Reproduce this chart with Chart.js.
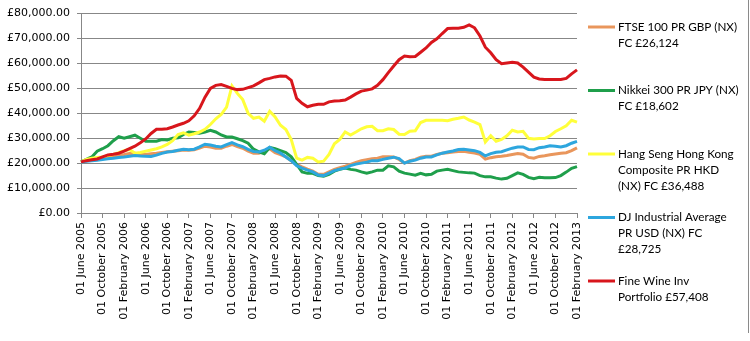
<!DOCTYPE html>
<html>
<head>
<meta charset="utf-8">
<script src="https://cdn.jsdelivr.net/npm/chart.js@4/dist/chart.umd.min.js"></script>
<style>
  body { margin: 0; background: #fff; }
  #growth { display: block; }
</style>
</head>
<body>
<canvas id="growth" width="750" height="341"></canvas>
<script>
// monthly valuation dates
const months = [
  '01 June 2005', '01 July 2005', '01 August 2005', '01 September 2005', '01 October 2005', '01 November 2005', '01 December 2005',
  '01 January 2006', '01 February 2006', '01 March 2006', '01 April 2006', '01 May 2006', '01 June 2006',
  '01 July 2006', '01 August 2006', '01 September 2006', '01 October 2006', '01 November 2006', '01 December 2006',
  '01 January 2007', '01 February 2007', '01 March 2007', '01 April 2007', '01 May 2007', '01 June 2007',
  '01 July 2007', '01 August 2007', '01 September 2007', '01 October 2007', '01 November 2007', '01 December 2007',
  '01 January 2008', '01 February 2008', '01 March 2008', '01 April 2008', '01 May 2008', '01 June 2008',
  '01 July 2008', '01 August 2008', '01 September 2008', '01 October 2008', '01 November 2008', '01 December 2008',
  '01 January 2009', '01 February 2009', '01 March 2009', '01 April 2009', '01 May 2009', '01 June 2009',
  '01 July 2009', '01 August 2009', '01 September 2009', '01 October 2009', '01 November 2009', '01 December 2009',
  '01 January 2010', '01 February 2010', '01 March 2010', '01 April 2010', '01 May 2010', '01 June 2010',
  '01 July 2010', '01 August 2010', '01 September 2010', '01 October 2010', '01 November 2010', '01 December 2010',
  '01 January 2011', '01 February 2011', '01 March 2011', '01 April 2011', '01 May 2011', '01 June 2011',
  '01 July 2011', '01 August 2011', '01 September 2011', '01 October 2011', '01 November 2011', '01 December 2011',
  '01 January 2012', '01 February 2012', '01 March 2012', '01 April 2012', '01 May 2012', '01 June 2012',
  '01 July 2012', '01 August 2012', '01 September 2012', '01 October 2012', '01 November 2012', '01 December 2012',
  '01 January 2013', '01 February 2013'
];

// value of £20,500 invested in each, by month
const ftse = [
  20500, 21200, 21600, 21800, 22000, 22300, 22800, 23200, 23500, 23900,
  24000, 23600, 23500, 23800, 24000, 24300, 24600, 24800, 25000, 25300,
  25200, 25400, 26000, 26800, 26500, 26000, 26000, 26800, 27500, 26600,
  26000, 24800, 24000, 24000, 24800, 25800, 24200, 23400, 22500, 21000,
  19500, 18500, 17600, 16800, 15500, 15500, 16500, 17500, 18200, 18800,
  19500, 20300, 21000, 21400, 21800, 22000, 22600, 22600, 22500, 21500,
  20000, 21000, 21500, 22400, 22800, 22800, 23500, 24000, 24200, 24500,
  24700, 24800, 24400, 24100, 23500, 21600, 22200, 22600, 22800, 23100,
  23500, 23900, 23600, 22300, 22000, 22700, 23000, 23400, 23700, 24000,
  24200, 25000, 26124
];
const nikkei = [
  20500, 21500, 22500, 24800, 25800, 27000, 29000, 30600, 30000, 30600,
  31200, 30000, 28800, 28800, 28800, 29500, 29300, 30000, 30200, 31500,
  32500, 32300, 32000, 32500, 33200, 32500, 31300, 30500, 30500, 29800,
  29000, 28000, 25600, 24500, 23800, 26300, 25800, 25000, 24200, 22500,
  19500, 16500, 15900, 15900, 15000, 14800, 15500, 16800, 17500, 18000,
  17500, 17200, 16500, 16000, 16500, 17200, 17200, 18900, 18500, 16800,
  16000, 15600, 15200, 15900, 15300, 15500, 16800, 17200, 17500, 17000,
  16500, 16300, 16100, 16000, 15000, 14500, 14500, 14000, 13600, 13900,
  15000, 16100, 15500, 14300, 13800, 14300, 14100, 14100, 14200, 15000,
  16400, 17900, 18602
];
const hangSeng = [
  20500, 21500, 22000, 22300, 22500, 23000, 23500, 24200, 25000, 25500,
  24000, 24300, 24800, 25300, 25800, 26500, 27500, 29000, 31500, 32200,
  31200, 31800, 32500, 33600, 35500, 37800, 39500, 42500, 51000, 48000,
  45500, 40000, 38000, 38500, 36800, 40800, 38500, 35200, 33500, 29500,
  22000, 21200, 22300, 22000, 20500, 20800, 23500, 27800, 29500, 32500,
  31300, 32500, 33800, 34600, 34800, 33000, 33000, 33800, 33500, 31600,
  31500, 32800, 33000, 36300, 37200, 37200, 37200, 37200, 37000, 37600,
  38000, 38500, 37300, 36500, 35500, 28500, 31000, 28800, 29500, 31000,
  33200, 32500, 32800, 30000, 29700, 29900, 29900, 31000, 32700, 33800,
  35000, 37200, 36488
];
const dowJones = [
  20500, 20800, 21000, 21200, 21500, 21800, 22000, 22300, 22500, 22800,
  23100, 22900, 22800, 22700, 23200, 23900, 24500, 24700, 25200, 25600,
  25400, 25600, 26500, 27600, 27300, 26800, 26500, 27400, 28200, 27300,
  26600, 25500, 24700, 24500, 25200, 26400, 25000, 24000, 22500, 21000,
  19000, 18000, 17200, 16500, 15200, 15000, 16000, 17000, 17600, 18000,
  19000, 19600, 20000, 20400, 21000, 21000, 21500, 22000, 22400, 21800,
  20000, 20800, 21200, 22000, 22500, 22500, 23300, 24000, 24500, 24900,
  25500, 25600, 25300, 25000, 24300, 22900, 23800, 24400, 24600, 25300,
  26000, 26500, 26500, 25500, 25400, 26200, 26500, 27000, 26800, 26500,
  27000, 28000, 28725
];
const fineWine = [
  20500, 21000, 21400, 21700, 22500, 23300, 23600, 24000, 24800, 25800,
  26800, 28200, 29700, 31900, 33600, 33600, 33800, 34500, 35300, 36000,
  37000, 39000, 42000, 46500, 50000, 51200, 51500, 50800, 50000, 49500,
  49600, 50300, 51000, 52200, 53500, 54000, 54600, 55000, 54900, 53200,
  46000, 44000, 42600, 43200, 43600, 43600, 44600, 44900, 45000, 45300,
  46500, 47800, 48900, 49300, 49800, 51200, 53500, 56300, 59000, 61500,
  63000, 62700, 62800, 64500, 66200, 68400, 69900, 72000, 74000, 74100,
  74100, 74500, 75500, 74300, 71000, 66500, 64300, 61500, 59900, 60200,
  60500, 60200, 58500, 56500, 54500, 53800, 53600, 53600, 53600, 53600,
  54000, 55800, 57408
];

// legend text, already broken into lines
const legendLines = [
  ['FTSE 100 PR GBP (NX)', 'FC £26,124'],
  ['Nikkei 300 PR JPY (NX)', 'FC £18,602'],
  ['Hang Seng Hong Kong', 'Composite PR HKD', '(NX) FC £36,488'],
  ['DJ Industrial Average', 'PR USD (NX) FC', '£28,725'],
  ['Fine Wine Inv', 'Portfolio £57,408']
];
const seriesData = [ftse, nikkei, hangSeng, dowJones, fineWine];
const colours = ['#E9965C', '#1F9F4B', '#FFFF3A', '#2DA6DE', '#D8161C'];

const axisFont = { family: 'DejaVu Sans', size: 11 };
const gridGrey = '#878787';

// wrapped legend on the right hand side
const sideLegend = {
  id: 'sideLegend',
  afterDraw(chart) {
    const ctx = chart.ctx;
    ctx.save();
    ctx.font = '11.7px Lato';
    ctx.textBaseline = 'middle';
    ctx.fillStyle = '#000';
    legendLines.forEach((lines, i) => {
      const y = 27 + i * 63.5;
      ctx.strokeStyle = colours[i];
      ctx.lineWidth = 3;
      ctx.beginPath();
      ctx.moveTo(588, y);
      ctx.lineTo(615, y);
      ctx.stroke();
      lines.forEach((txt, j) => ctx.fillText(txt, 618, y + j * 16));
    });
    // outer frame edge
    ctx.strokeStyle = '#8a8a8a';
    ctx.lineWidth = 1;
    ctx.beginPath();
    ctx.moveTo(748.5, 0);
    ctx.lineTo(748.5, 333);
    ctx.stroke();
    ctx.restore();
  }
};

const ctx = document.getElementById('growth').getContext('2d');

new Chart(ctx, {
  type: 'line',
  data: {
    labels: months,
    datasets: seriesData.map((data, i) => ({
      label: legendLines[i].join(' '),
      data,
      borderColor: colours[i],
      backgroundColor: colours[i],
      borderWidth: 3,
      pointRadius: 0,
      tension: 0,
      // later series sit on top
      order: seriesData.length - i
    }))
  },
  options: {
    responsive: false,
    animation: false,
    layout: { padding: { top: 13, right: 173, left: 0, bottom: 0 } },
    plugins: {
      legend: { display: false },
      tooltip: { enabled: false }
    },
    scales: {
      x: {
        offset: false,
        afterFit(scale) { scale.height = 128; },
        grid: {
          drawOnChartArea: false,
          drawTicks: true,
          tickLength: 5,
          color: gridGrey
        },
        border: { color: gridGrey },
        ticks: {
          autoSkip: false,
          maxRotation: 90,
          minRotation: 90,
          padding: 4,
          color: '#000',
          font: axisFont,
          // one label every four months
          callback(value, index) {
            return index % 4 === 0 ? months[index] : null;
          }
        }
      },
      y: {
        min: 0,
        max: 80000,
        afterFit(scale) { scale.width = 81; },
        grid: { color: gridGrey, tickLength: 4 },
        border: { color: gridGrey },
        ticks: {
          stepSize: 10000,
          padding: 7,
          color: '#000',
          font: axisFont,
          callback: v => '£' + v.toLocaleString('en-GB', { minimumFractionDigits: 2, maximumFractionDigits: 2 })
        }
      }
    }
  },
  plugins: [sideLegend]
});
</script>
</body>
</html>
